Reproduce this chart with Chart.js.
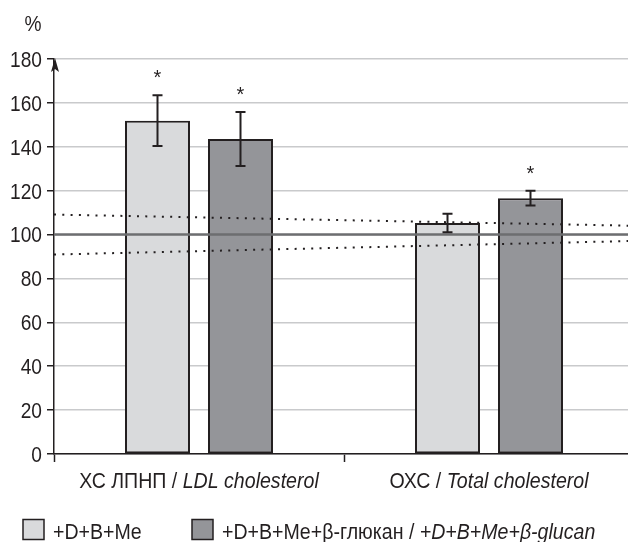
<!DOCTYPE html>
<html>
<head>
<meta charset="utf-8">
<script src="https://cdn.jsdelivr.net/npm/chart.js@4.4.1/dist/chart.umd.min.js"></script>
<style>
  html, body { margin: 0; padding: 0; background: #fff; overflow: hidden; }
  #clip { width: 628px; height: 542px; overflow: hidden; position: relative; }
  #wrap { width: 634px; height: 542px; position: absolute; left: 0; top: 0; }
</style>
</head>
<body>
<div id="clip"><div id="wrap"><canvas id="chart"></canvas></div></div>
<script>
// category labels: regular part + italic part
const catRegular = ["ХС ЛПНП / ", "ОХС / "];
const catItalic = ["LDL cholesterol", "Total cholesterol"];
const yTicks = [0, 20, 40, 60, 80, 100, 120, 140, 160, 180];

// +D+B+Me
const baseValues = [151.9, 105.3];
const baseErr = [11.6, 4.2];
const baseStars = [true, false];

// +D+B+Me+β-glucan
const glucanValues = [143.5, 116.6];
const glucanErr = [12.3, 3.4];
const glucanStars = [true, true];

// reference line and dotted band: value at left edge, value at right edge
const refLine = [100, 100];
const bandUpper = [109.1, 104.0];
const bandLower = [90.9, 97.1];

const legendRegular = ["+D+B+Me", "+D+B+Me+β-глюкан / "];
const legendItalic = ["", "+D+B+Me+β-glucan"];

const FONT = '"Liberation Sans", Arial, sans-serif';
const INK = "#231f20";
const LIGHT = "#d9dadc";
const DARK = "#949599";
const SX = 0.89; // condensed look

function scaledText(ctx, txt, x, y, font, sx, align) {
  ctx.save();
  ctx.font = font;
  ctx.textAlign = align || "left";
  ctx.textBaseline = "alphabetic";
  ctx.translate(x, y);
  ctx.scale(sx, 1);
  ctx.fillText(txt, 0, 0);
  ctx.restore();
}

// regular + italic run, x is left edge or centre
function drawMixed(ctx, reg, ital, x, y, size, sx, center) {
  ctx.font = size + "px " + FONT;
  const w1 = ctx.measureText(reg).width * sx;
  ctx.font = "italic " + size + "px " + FONT;
  const w2 = ctx.measureText(ital).width * sx;
  const x0 = center ? x - (w1 + w2) / 2 : x;
  scaledText(ctx, reg, x0, y, size + "px " + FONT, sx);
  if (ital) scaledText(ctx, ital, x0 + w1, y, "italic " + size + "px " + FONT, sx);
}

const extras = {
  id: "extras",
  afterDatasetsDraw(chart) {
    const ctx = chart.ctx;
    const y = chart.scales.y;
    const x = chart.scales.x;
    const area = chart.chartArea;
    ctx.save();

    // reference line and dotted band
    const lines = [
      [refLine, "#6d6e70", 2.5, []],
      [bandUpper, INK, 2, [2, 6.3]],
      [bandLower, INK, 2, [2, 6.3]],
    ];
    lines.forEach(([vals, color, w, dash]) => {
      ctx.beginPath();
      ctx.strokeStyle = color;
      ctx.lineWidth = w;
      ctx.setLineDash(dash);
      ctx.moveTo(area.left, y.getPixelForValue(vals[0]));
      ctx.lineTo(area.right, y.getPixelForValue(vals[1]));
      ctx.stroke();
    });
    ctx.setLineDash([]);

    // error bars + stars
    ctx.strokeStyle = INK;
    ctx.fillStyle = INK;
    ctx.lineWidth = 2;
    const sets = [[baseValues, baseErr, baseStars], [glucanValues, glucanErr, glucanStars]];
    sets.forEach(([vals, errs, stars], di) => {
      chart.getDatasetMeta(di).data.forEach((bar, i) => {
        const top = y.getPixelForValue(vals[i] + errs[i]);
        const bot = y.getPixelForValue(vals[i] - errs[i]);
        ctx.beginPath();
        ctx.moveTo(bar.x, top); ctx.lineTo(bar.x, bot);
        ctx.moveTo(bar.x - 5, top); ctx.lineTo(bar.x + 5, top);
        ctx.moveTo(bar.x - 5, bot); ctx.lineTo(bar.x + 5, bot);
        ctx.stroke();
        if (stars[i]) scaledText(ctx, "*", bar.x, top - 11, "20px " + FONT, 1, "center");
      });
    });

    // arrow on the y axis
    const ax = area.left + 1;
    const tip = y.getPixelForValue(180) - 1;
    ctx.beginPath();
    ctx.moveTo(ax, tip);
    ctx.lineTo(ax - 4, tip + 14);
    ctx.lineTo(ax, tip + 11);
    ctx.lineTo(ax + 4, tip + 14);
    ctx.closePath();
    ctx.fill();

    // y tick labels
    yTicks.forEach(v => {
      scaledText(ctx, String(v), 42, y.getPixelForValue(v) + 7.9, "22px " + FONT, 0.87, "right");
    });
    scaledText(ctx, "%", 33, 30.5, "22px " + FONT, 0.87, "center");

    // category labels
    catRegular.forEach((reg, i) => {
      drawMixed(ctx, reg, catItalic[i], x.getPixelForValue(i), 488, 22, SX, true);
    });

    // legend
    const starts = [23, 192];
    [LIGHT, DARK].forEach((color, i) => {
      const lx = starts[i];
      ctx.fillStyle = color;
      ctx.fillRect(lx, 519.5, 21, 20);
      ctx.strokeStyle = INK;
      ctx.lineWidth = 1.5;
      ctx.strokeRect(lx, 519.5, 21, 20);
      ctx.fillStyle = INK;
      drawMixed(ctx, legendRegular[i], legendItalic[i], lx + 30, 538.5, 22, SX, false);
    });
    ctx.restore();
  },
};

const barStyle = {
  borderColor: INK,
  borderWidth: 2,
  borderSkipped: false,
  categoryPercentage: 0.5724,
  barPercentage: 0.783,
};

new Chart(document.getElementById("chart"), {
  type: "bar",
  data: {
    labels: catRegular.map((r, i) => r + catItalic[i]),
    datasets: [
      { ...barStyle, data: baseValues, backgroundColor: LIGHT },
      { ...barStyle, data: glucanValues, backgroundColor: DARK },
    ],
  },
  options: {
    responsive: true,
    maintainAspectRatio: false,
    animation: false,
    layout: { padding: { top: 59, right: 0, left: 0, bottom: 0 } },
    plugins: { legend: { display: false }, tooltip: { enabled: false } },
    scales: {
      x: {
        offset: true,
        grid: { offset: true, drawOnChartArea: false, drawTicks: true, tickLength: 8, tickColor: INK, tickWidth: 1.5 },
        border: { color: INK, width: 1.5 },
        ticks: { display: false },
        afterFit: s => { s.height = 88; },
      },
      y: {
        min: 0,
        max: 180,
        afterBuildTicks: s => { s.ticks = yTicks.map(v => ({ value: v })); },
        grid: { color: "#c9cacc", lineWidth: 1.5, tickLength: 7, tickColor: INK, tickWidth: 1.5 },
        border: { color: INK, width: 1.5 },
        ticks: { display: false },
        afterFit: s => { s.width = 54; },
      },
    },
  },
  plugins: [extras],
});
</script>
</body>
</html>
